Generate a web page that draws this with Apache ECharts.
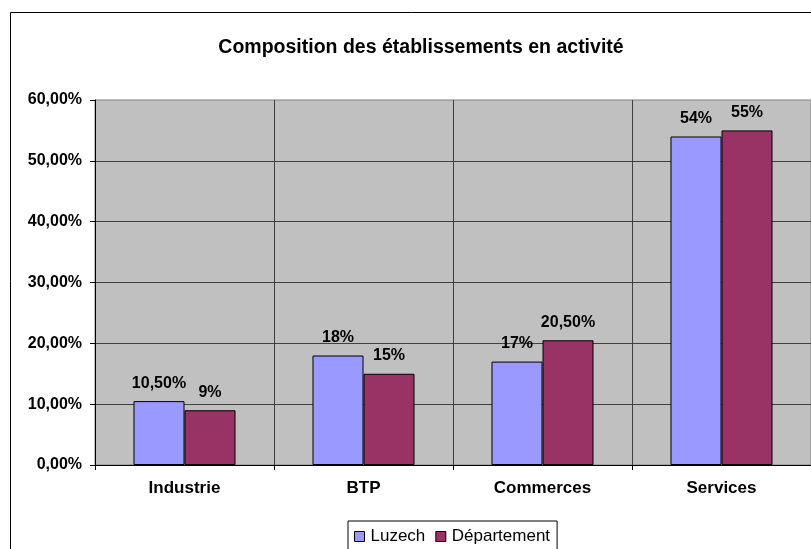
<!DOCTYPE html>
<html>
<head>
<meta charset="utf-8">
<script src="https://cdn.jsdelivr.net/npm/echarts@6/dist/echarts.min.js"></script>
<style>
  html, body { margin: 0; padding: 0; background: #fff; }
  #chart { width: 811px; height: 549px; }
</style>
</head>
<body>
<div id="chart"></div>
<script>
const categories = ["Industrie", "BTP", "Commerces", "Services"];
const luzech = [10.5, 18, 17, 54];
const departement = [9, 15, 20.5, 55];
const seriesNames = ["Luzech", "Département"];

const FONT = "'Liberation Sans', Arial, sans-serif";

function pct(v, alwaysDecimals) {
  if (!alwaysDecimals && Number.isInteger(v)) return v + "%";
  return v.toFixed(2).replace(".", ",") + "%";
}

const chart = echarts.init(document.getElementById("chart"));

const labelStyle = {
  show: true,
  position: "top",
  distance: 10,
  color: "#000",
  fontFamily: FONT,
  fontWeight: "bold",
  fontSize: 16,
  formatter: (p) => pct(p.value, false),
};

chart.setOption({
  animation: false,
  backgroundColor: "#fff",
  textStyle: { fontFamily: FONT },
  graphic: [
    {
      type: "rect",
      z: -10,
      shape: { x: 10.5, y: 12.5, width: 900, height: 600 },
      style: { fill: "none", stroke: "#000", lineWidth: 1 },
    },
  ],
  title: {
    text: "Composition des établissements en activité",
    left: 416,
    top: 33,
    textAlign: "center",
    textStyle: {
      fontFamily: FONT,
      fontWeight: "bold",
      fontSize: 19.5,
      color: "#000",
    },
  },
  legend: {
    data: seriesNames,
    left: 348,
    top: 521,
    padding: [7, 7, 5, 6],
    itemGap: 10,
    itemWidth: 10,
    itemHeight: 10,
    borderColor: "#000",
    borderWidth: 1,
    backgroundColor: "#fff",
    icon: "rect",
    itemStyle: { borderColor: "#000", borderWidth: 1 },
    textStyle: { fontFamily: FONT, fontSize: 17, color: "#000", padding: [0, 0, 0, 1] },
  },
  grid: {
    left: 95,
    top: 100,
    width: 718,
    height: 365,
    show: true,
    backgroundColor: "#c0c0c0",
    borderColor: "#808080",
    borderWidth: 1,
  },
  xAxis: {
    type: "category",
    data: categories,
    axisLine: { lineStyle: { color: "#000", width: 1 } },
    axisTick: { show: true, length: 5, lineStyle: { color: "#000" } },
    axisLabel: {
      margin: 15,
      color: "#000",
      fontFamily: FONT,
      fontWeight: "bold",
      fontSize: 17,
    },
    splitLine: { show: true, lineStyle: { color: "#404040", width: 1 } },
  },
  yAxis: {
    type: "value",
    min: 0,
    max: 60,
    interval: 10,
    axisLine: { show: true, lineStyle: { color: "#000", width: 1 } },
    axisTick: { show: true, length: 5, lineStyle: { color: "#000" } },
    axisLabel: {
      margin: 13,
      color: "#000",
      fontFamily: FONT,
      fontWeight: "bold",
      fontSize: 16,
      formatter: (v) => pct(v, true),
    },
    splitLine: {
      show: true,
      showMinLine: false,
      showMaxLine: false,
      lineStyle: { color: "#404040", width: 1 },
    },
  },
  series: [
    {
      name: seriesNames[0],
      type: "bar",
      data: luzech,
      barGap: "0%",
      barCategoryGap: "43%",
      itemStyle: { color: "#9999ff", borderColor: "#000", borderWidth: 1 },
      label: labelStyle,
    },
    {
      name: seriesNames[1],
      type: "bar",
      data: departement,
      barGap: "0%",
      barCategoryGap: "43%",
      itemStyle: { color: "#993366", borderColor: "#000", borderWidth: 1 },
      label: labelStyle,
    },
  ],
});
</script>
</body>
</html>
